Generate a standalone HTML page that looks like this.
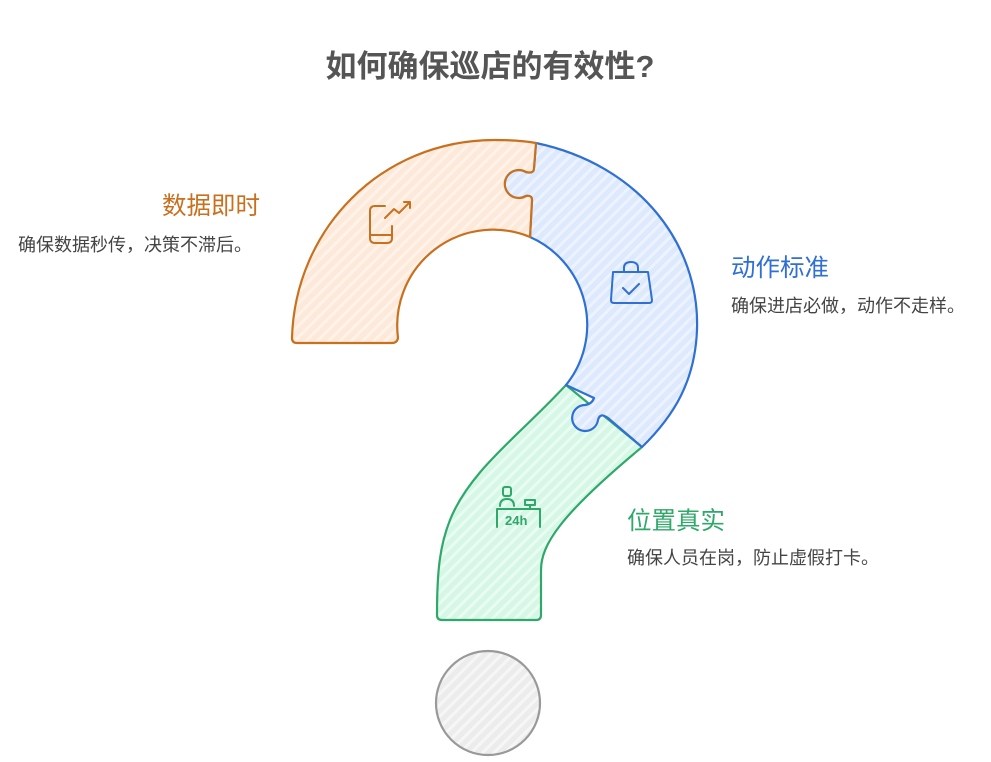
<!DOCTYPE html>
<html><head><meta charset="utf-8"><style>
body{margin:0;width:991px;height:762px;background:#fff;overflow:hidden;position:relative;font-family:"Liberation Sans","Noto Sans CJK SC",sans-serif}
.t{position:absolute;white-space:nowrap}
</style></head><body>
<svg width="991" height="762" style="position:absolute;left:0;top:0">
<defs>
<pattern id="po" width="8" height="8" patternUnits="userSpaceOnUse" patternTransform="rotate(45)"><rect width="8" height="8" fill="#fde9d9"/><rect width="3" height="8" fill="#fff2e8"/></pattern>
<pattern id="pb" width="8" height="8" patternUnits="userSpaceOnUse" patternTransform="rotate(45)"><rect width="8" height="8" fill="#dde9fc"/><rect width="3" height="8" fill="#edf3fe"/></pattern>
<pattern id="pg" width="8" height="8" patternUnits="userSpaceOnUse" patternTransform="rotate(45)"><rect width="8" height="8" fill="#d6f7e6"/><rect width="3" height="8" fill="#e9fcf2"/></pattern>
<pattern id="pc" width="8" height="8" patternUnits="userSpaceOnUse" patternTransform="rotate(45)"><rect width="8" height="8" fill="#ececec"/><rect width="3" height="8" fill="#f6f6f6"/></pattern>
</defs>
<g stroke-width="2.2" stroke-linejoin="round">
<path d="M566,385 C520,435 470,470 450,520 C440,545 437,570 437,615 Q437,620 442,620 L536,620 Q541,620 541,615 L541,570 C541,545 560,515 642,447 Z" fill="url(#pg)" stroke="#2fa86a"/>
<path d="M536,143 C640,165 700,245 697,330 C695,380 675,415 642,447 L608,418 Q600,412 598,420 A13,13 0 1 1 585,405 Q592,404 594,398 L566,385 A96,96 0 0 0 530,237 L532,200 Q532,195 526,196 A14,14 0 1 1 526,172 Q534,174 534,168 Z" fill="url(#pb)" stroke="#2f6fd6"/>
<path d="M292,338 C295,230 380,140 495,140 C510,140 525,141 536,143 L534,168 Q534,174 526,172 A14,14 0 1 0 526,196 Q532,195 532,200 L530,237 A96,96 0 0 0 398,338 Q397,343 392,343 L297,343 Q292,343 292,338 Z" fill="url(#po)" stroke="#c8701e"/>
<circle cx="488" cy="703" r="52" fill="url(#pc)" stroke="#999"/>
</g>
<g fill="none" stroke="#c8701e" stroke-width="2" stroke-linecap="round" stroke-linejoin="round">
<path d="M385,206 L375,206 Q370,206 370,211 L370,238 Q370,243 375,243 L387,243 Q392,243 392,238 L392,226"/>
<path d="M370,235 L392,235"/>
<path d="M385,218 L394,209 L399,213 L410,202 M404,202 L410,202 L410,208"/>
</g>
<g fill="none" stroke="#2f6fd6" stroke-width="2" stroke-linecap="round" stroke-linejoin="round">
<path d="M613,272 L648,272 L652,300 Q652,303 649,303 L614,303 Q611,303 611,300 Z"/>
<path d="M624,272 L624,268 Q624,262 631,262 Q638,262 638,268 L638,272"/>
<path d="M623,288 L629,294 L639,284"/>
</g>
<g fill="none" stroke="#2fa86a" stroke-width="2" stroke-linecap="round" stroke-linejoin="round">
<rect x="503" y="487" width="8" height="9" rx="2"/>
<path d="M500,506 Q500,499 507,499 Q514,499 514,506"/>
<path d="M497,527 L497,509 L540,509 L540,527"/>
<rect x="525" y="500" width="10" height="5"/>
<path d="M530,505 L530,509"/>
</g>
<text x="505" y="525" font-family="Liberation Sans" font-weight="bold" font-size="13" fill="#2fa86a">24h</text>
</svg>
<div class="t" style="left:0;width:980px;text-align:center;top:41px;font-size:31px;font-weight:bold;color:#555">如何确保巡店的有效性?</div>
<div class="t" style="left:162px;top:187px;font-size:24.5px;color:#c8701e">数据即时</div>
<div class="t" style="left:18px;top:231px;font-size:18px;color:#444">确保数据秒传，决策不滞后。</div>
<div class="t" style="left:731px;top:249px;font-size:24.5px;color:#2f6fd6">动作标准</div>
<div class="t" style="left:731px;top:292px;font-size:18px;color:#444">确保进店必做，动作不走样。</div>
<div class="t" style="left:627px;top:502px;font-size:24.5px;color:#2fa86a">位置真实</div>
<div class="t" style="left:627px;top:544px;font-size:18px;color:#444">确保人员在岗，防止虚假打卡。</div>
</body></html>
